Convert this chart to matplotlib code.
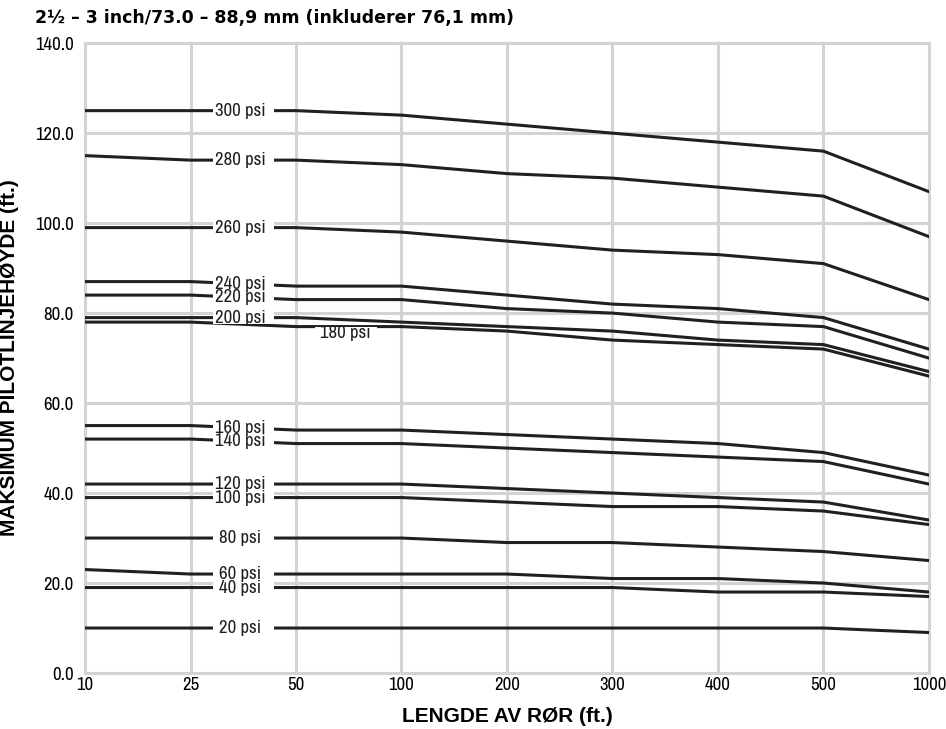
import numpy as np
import matplotlib
matplotlib.use('Agg')
import matplotlib.pyplot as plt
from matplotlib.patches import Rectangle

# lengde av ror (ft.) - kategorier, like avstander
lengde = ['10', '25', '50', '100', '200', '300', '400', '500', '1000']

# trykk-etiketter
psi = ['300 psi', '280 psi', '260 psi', '240 psi', '220 psi', '200 psi', '180 psi',
       '160 psi', '140 psi', '120 psi', '100 psi', '80 psi', '60 psi', '40 psi', '20 psi']

# maks pilotlinjehoyde (ft.) for hver psi
p300 = [125, 125, 125, 124, 122, 120, 118, 116, 107]
p280 = [115, 114, 114, 113, 111, 110, 108, 106, 97]
p260 = [99, 99, 99, 98, 96, 94, 93, 91, 83]
p240 = [87, 87, 86, 86, 84, 82, 81, 79, 72]
p220 = [84, 84, 83, 83, 81, 80, 78, 77, 70]
p200 = [79, 79, 79, 78, 77, 76, 74, 73, 67]
p180 = [78, 78, 77, 77, 76, 74, 73, 72, 66]
p160 = [55, 55, 54, 54, 53, 52, 51, 49, 44]
p140 = [52, 52, 51, 51, 50, 49, 48, 47, 42]
p120 = [42, 42, 42, 42, 41, 40, 39, 38, 34]
p100 = [39, 39, 39, 39, 38, 37, 37, 36, 33]
p80 = [30, 30, 30, 30, 29, 29, 28, 27, 25]
p60 = [23, 22, 22, 22, 22, 21, 21, 20, 18]
p40 = [19, 19, 19, 19, 19, 19, 18, 18, 17]
p20 = [10, 10, 10, 10, 10, 10, 10, 10, 9]

serier = [p300, p280, p260, p240, p220, p200, p180, p160, p140, p120, p100, p80, p60, p40, p20]

yticks = [0, 20, 40, 60, 80, 100, 120, 140]

grid_farge = '#d3d3d3'
linje_farge = '#231f20'

# smal skrift for tall og etiketter
smal = ['Archivo Narrow', 'Liberation Sans']
smal_str = 13.5

fig = plt.figure(figsize=(9.46, 7.29), dpi=100)
ax = fig.add_axes([0.0899, 0.0768, 0.892, 0.864])

x = np.arange(len(lengde))

for s in serier:
    ax.plot(x, s, color=linje_farge, linewidth=2.2, zorder=2, solid_joinstyle='round')

# etiketter med hvit boks som bryter linjene
halv_h = 1.35
for navn, s in zip(psi, serier):
    if navn == '180 psi':
        xm = 2.47
        x0, x1 = 2.18, 2.77
        ym = 75.6
    else:
        xm = 1.47
        x0, x1 = 1.21, 1.79
        ym = np.interp(xm, x, s)
    ax.add_patch(Rectangle((x0, ym - halv_h), x1 - x0, 2 * halv_h,
                           facecolor='white', edgecolor='none', zorder=3))
    ax.text(xm, ym, navn, ha='center', va='center', family=smal, fontsize=smal_str,
            color='#231f20', zorder=4)

ax.set_xlim(0, 8)
ax.set_ylim(0, 140)
ax.set_xticks(x)
ax.set_xticklabels(lengde, family=smal, fontsize=smal_str)
ax.set_yticks(yticks)
ax.set_yticklabels(['%.1f' % v for v in yticks], family=smal, fontsize=smal_str)
ax.tick_params(axis='x', length=0, pad=3)
ax.tick_params(axis='y', length=0, pad=8)

for sp in ax.spines.values():
    sp.set_visible(False)
ax.grid(True, color=grid_farge, linewidth=2.2, zorder=0)
ax.set_axisbelow(True)
for gl in ax.get_xgridlines() + ax.get_ygridlines():
    gl.set_clip_on(False)

ax.set_xlabel('LENGDE AV RØR (ft.)', fontsize=15, fontweight='bold',
              family='Liberation Sans', labelpad=10)
ax.set_ylabel('MAKSIMUM PILOTLINJEHØYDE (ft.)', fontsize=15, fontweight='bold',
              family='Liberation Sans', labelpad=12)

fig.text(0.037, 0.975, '2½ – 3 inch/73.0 – 88,9 mm (inkluderer 76,1 mm)', fontsize=12.5,
         fontweight='bold', ha='left', va='center', family='DejaVu Sans')

fig.savefig('out.png', dpi=100)
